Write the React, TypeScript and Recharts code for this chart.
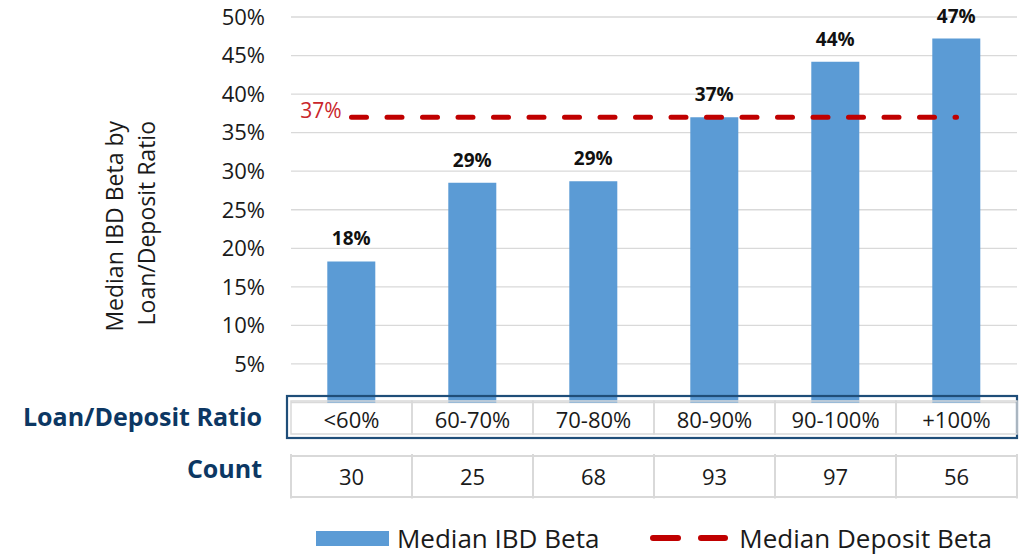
import React from 'react';
import {
  ComposedChart,
  Bar,
  Line,
  XAxis,
  YAxis,
  CartesianGrid,
  LabelList,
  Legend,
} from 'recharts';

const categories = ['<60%', '60-70%', '70-80%', '80-90%', '90-100%', '+100%'];
const counts = [30, 25, 68, 93, 97, 56];
const ibdBeta = [18.3, 28.5, 28.7, 37.0, 44.2, 47.2];
const depositBeta = [37, 37, 37, 37, 37, 37];
const yTicks = [5, 10, 15, 20, 25, 30, 35, 40, 45, 50];
const legendOrder = ['ibd', 'dep'];

const data = categories.map((c, i) => ({
  cat: c,
  count: counts[i],
  ibd: ibdBeta[i],
  dep: depositBeta[i],
}));

const FONT = '"Open Sans", "Noto Sans", sans-serif';
const NAVY = '#0C3763';
const BOX = '#1F4E79';
const GRAY = '#D9D9D9';
const BLUE = '#5B9BD5';
const RED = '#C00000';

const TableTick = (props: any) => {
  const { x, y, payload, index, width } = props;
  const n = categories.length;
  const cw = width ? width / n : (payload.offset || 60.5) * 2;
  const left = x - cw / 2;
  return (
    <g fontFamily={FONT}>
      <rect x={left} y={y - 1.5} width={cw} height={33} fill="none" stroke={GRAY} strokeWidth={1.5} />
      <text x={x} y={y + 25.5} textAnchor="middle" fontSize={22} fill="#1a1a1a">
        {payload.value}
      </text>
      <line x1={left} x2={left} y1={y + 51.5} y2={y + 96} stroke={GRAY} strokeWidth={2} />
      {index === n - 1 && (
        <line x1={left + cw} x2={left + cw} y1={y + 51.5} y2={y + 96} stroke={GRAY} strokeWidth={2} />
      )}
      <line x1={left} x2={left + cw} y1={y + 53.5} y2={y + 53.5} stroke={GRAY} strokeWidth={2} />
      <line x1={left} x2={left + cw} y1={y + 94.5} y2={y + 94.5} stroke={GRAY} strokeWidth={2} />
      <text x={x} y={y + 82.5} textAnchor="middle" fontSize={22} fill="#1a1a1a">
        {counts[index]}
      </text>
      {index === 0 && (
        <g>
          <rect x={left - 4} y={y - 6.5} width={n * cw + 4} height={42} fill="none" stroke={BOX} strokeWidth={2.2} />
          <text x={left - 29} y={y + 23.5} textAnchor="end" fontSize={25} fontWeight="bold" fill={NAVY}>
            Loan/Deposit Ratio
          </text>
          <text x={left - 29} y={y + 75.5} textAnchor="end" fontSize={25} fontWeight="bold" fill={NAVY}>
            Count
          </text>
        </g>
      )}
    </g>
  );
};

const YTitle = (props: any) => {
  const vb = props.viewBox || { x: 0, y: 17 };
  const by = vb.y + 104;
  const x1 = vb.x + 123;
  const x2 = vb.x + 155;
  return (
    <g fontFamily={FONT} fontSize={23} fill="#1a1a1a">
      <text x={x1} y={by} textAnchor="end" transform={`rotate(-90, ${x1}, ${by})`}>
        Median IBD Beta by
      </text>
      <text x={x2} y={by} textAnchor="end" transform={`rotate(-90, ${x2}, ${by})`}>
        Loan/Deposit Ratio
      </text>
    </g>
  );
};

const DepLabel = (props: any) => {
  const { x, y, value, index } = props;
  if (index !== 0) return null;
  return (
    <text x={x - 10} y={y + 1} textAnchor="end" fontSize={21} fill="#C9262B" fontFamily={FONT}>
      {`${Math.round(value)}%`}
    </text>
  );
};

const renderLegend = (props: any) => {
  const payload = [...(props.payload || [])].sort(
    (a: any, b: any) => legendOrder.indexOf(a.dataKey) - legendOrder.indexOf(b.dataKey)
  );
  return (
    <div
      style={{
        display: 'flex',
        justifyContent: 'center',
        alignItems: 'center',
        fontFamily: FONT,
        fontSize: 26,
        color: '#1a1a1a',
        height: 30,
        lineHeight: '30px',
        whiteSpace: 'nowrap',
      }}
    >
      {payload.map((entry: any, i: number) => (
        <div key={i} style={{ display: 'flex', alignItems: 'center', marginLeft: i > 0 ? 51 : 0 }}>
          {entry.dataKey === 'ibd' ? (
            <span style={{ display: 'inline-block', width: 73, height: 15, background: BLUE, marginRight: 8 }} />
          ) : (
            <svg width={78} height={10} style={{ marginRight: 11 }}>
              <line x1={3} x2={28} y1={5} y2={5} stroke={RED} strokeWidth={6} strokeLinecap="round" />
              <line x1={51} x2={75} y1={5} y2={5} stroke={RED} strokeWidth={6} strokeLinecap="round" />
            </svg>
          )}
          <span>{entry.value}</span>
        </div>
      ))}
    </div>
  );
};

export default function App() {
  return (
    <div style={{ position: 'absolute', left: 0, top: 0, width: 1022, height: 555, background: '#fff' }}>
      <ComposedChart
        width={1022}
        height={555}
        data={data}
        margin={{ top: 17, right: 5, left: 0, bottom: 52.5 }}
        barCategoryGap="30%"
      >
        <CartesianGrid vertical={false} stroke={GRAY} strokeWidth={1.3} />
        <XAxis
          dataKey="cat"
          axisLine={false}
          tickLine={false}
          tickSize={0}
          tickMargin={0}
          height={100}
          interval={0}
          tick={<TableTick />}
        />
        <YAxis
          domain={[0, 50]}
          ticks={yTicks}
          tickFormatter={(v: number) => `${v}%`}
          axisLine={false}
          tickLine={false}
          tickSize={0}
          tickMargin={26}
          width={291}
          tick={{ fontSize: 22, fill: '#1a1a1a', fontFamily: FONT }}
          label={{ content: <YTitle /> }}
        />
        <Bar dataKey="ibd" name="Median IBD Beta" fill={BLUE} isAnimationActive={false}>
          <LabelList
            dataKey="ibd"
            position="top"
            offset={16}
            formatter={(v: any) => `${Math.round(Number(v))}%`}
            fill="#111"
            fontSize={19}
            fontWeight="bold"
            fontFamily={FONT}
          />
        </Bar>
        <Line
          dataKey="dep"
          name="Median Deposit Beta"
          stroke={RED}
          strokeWidth={5}
          strokeDasharray="15 20.5"
          strokeLinecap="round"
          dot={false}
          activeDot={false}
          isAnimationActive={false}
        >
          <LabelList dataKey="dep" content={<DepLabel />} />
        </Line>
        <Legend
          verticalAlign="middle"
          layout="horizontal"
          align="center"
          content={renderLegend}
          wrapperStyle={{ top: 523, left: 291, width: 726, height: 30 }}
        />
      </ComposedChart>
    </div>
  );
}
